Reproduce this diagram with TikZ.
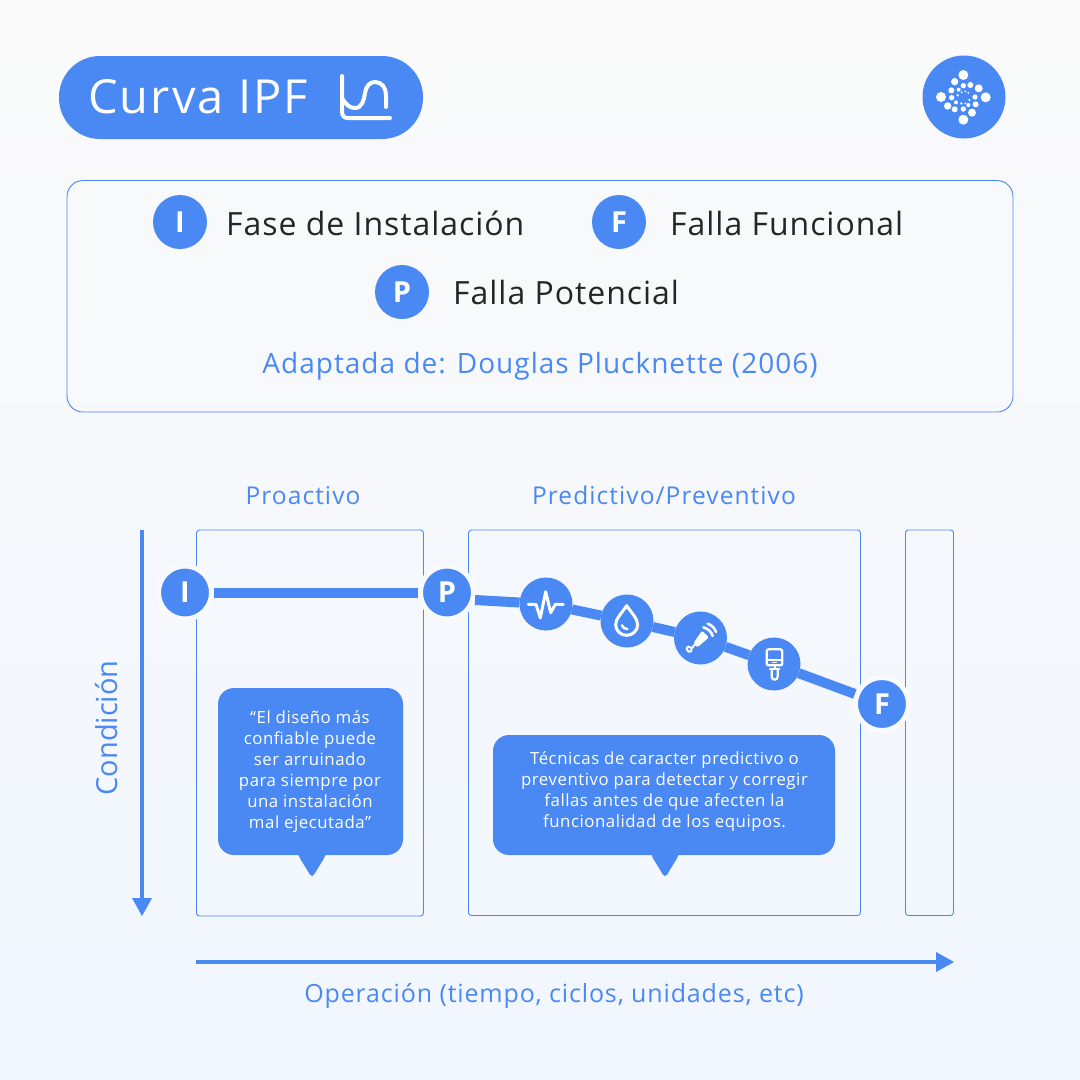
\documentclass[tikz,border=0pt]{standalone}
\usepackage{fontspec}
\setmainfont{Open Sans}
\definecolor{ipfblue}{RGB}{74,137,243}
\definecolor{bgtop}{RGB}{250,250,250}
\definecolor{bgbot}{RGB}{241,246,255}
\definecolor{halo}{RGB}{248,250,254}
\definecolor{ink}{RGB}{38,38,38}
\newcommand{\ipffont}[3]{\fontsize{#1}{#2}\selectfont\addfontfeature{LetterSpace=#3}}
\newcommand{\ipfbold}[2]{\bfseries\fontsize{#1}{#2}\selectfont}
\tikzset{
  badge/.style={circle,fill=ipfblue,text=white,inner sep=0pt,minimum size=54pt,font=\ipfbold{29}{29}},
  marker/.style={circle,fill=ipfblue,draw=halo,line width=5pt,text=white,inner sep=0pt,minimum size=53pt,outer sep=2.5pt,font=\ipfbold{29}{29}},
  tech/.style={circle,fill=ipfblue,inner sep=0pt,minimum size=53pt,outer sep=0pt},
  phase/.style={draw=ipfblue,line width=0.9pt,rounded corners=3pt},
  curve/.style={draw=ipfblue,line width=10pt},
  axis/.style={draw=ipfblue,line width=3.5pt},
  bubble/.style={fill=ipfblue,rounded corners=16pt},
  bubbletext/.style={text=white,align=center,font=\ipffont{16.8}{21}{3.2},inner sep=0pt},
  legend/.style={text=ink,font=\ipffont{32}{32}{3.0},anchor=base west,inner sep=0pt},
  head/.style={text=ipfblue,font=\ipffont{24.5}{24}{4.4},inner sep=0pt},
  icon/.style={draw=white,line width=3pt,line cap=round,line join=round}
}
\begin{document}
\begin{tikzpicture}[x=1pt,y=-1pt]
\useasboundingbox (0,0) rectangle (1080,1080);
\shade[top color=bgtop,bottom color=bgbot] (0,0) rectangle (1080,1080);
% title
\fill[ipfblue,rounded corners=41pt] (59,56) rectangle (423,139);
\node[text=white,font=\ipffont{47}{47}{4.4},anchor=base west,inner sep=0pt] (title) at (88,113) {Curva IPF};
\draw[white,line width=4pt,line cap=round,line join=round] (342,76) -- (342,111) .. controls (342,116) and (344,118) .. (348,118) -- (390,118);
\draw[white,line width=4pt,line cap=round] (342,98) .. controls (346,105) and (350,108) .. (355,108) .. controls (362,108) and (364,100) .. (365,93) .. controls (366,86) and (370,82) .. (375,82) .. controls (382,82) and (386,88) .. (386,95) -- (386,107);
% logo
\fill[ipfblue] (964,97) circle [radius=41.5pt];
\begin{scope}[shift={(910,45)},scale=1/3]
\foreach \x/\y/\r in {160/90/15,134/110/11,160/122/8,181/120/9,206/130/12,124/136/9,146/134/6,93/156/15,125/158/8,195/156/8,227/157/15,113/183/11,134/193/9,138/172/6,160/192/8,186/203/12,160/224/15,197/178/9,175/180/6,178/165/4,154/175/4,166/175/3,143/151/4,155/142/3,166/139/3,175/143/3}
  \fill[white] (\x,\y) circle [radius=\r];
\end{scope}
% legend
\draw[phase,rounded corners=16pt] (67,180.5) rectangle (1013,412);
\node[badge] (li) at (180,222) {I};
\node[legend] (lit) at (226,235) {Fase de Instalación};
\node[badge] (lf) at (619,222) {F};
\node[legend] (lft) at (670,235) {Falla Funcional};
\node[badge] (lp) at (402,292) {P};
\node[legend] (lpt) at (453,304) {Falla Potencial};
\node[text=ipfblue,font=\ipffont{28}{28}{3.6},anchor=base,inner sep=0pt] (src) at (540,373) {Adaptada de: Douglas Plucknette (2006)};
% headers
\node[head,anchor=base] (h1) at (303,504) {Proactivo};
\node[head,anchor=base] (h2) at (664,504) {Predictivo/Preventivo};
% phase boxes
\draw[phase] (196.5,530) rectangle (423.5,916);
\draw[phase] (468.5,530) rectangle (860.5,915.5);
\draw[phase] (905.5,530) rectangle (953.5,915.5);
% axes
\coordinate (vs) at (142,530);
\coordinate (ve) at (142,916);
\coordinate (hs) at (196,962);
\coordinate (he) at (954,962);
\draw[axis] (vs) -- (142,900);
\fill[ipfblue] (ve) -- (132,898) -- (152,898) -- cycle;
\draw[axis] (hs) -- (938,962);
\fill[ipfblue] (he) -- (936,952) -- (936,972) -- cycle;
\node[text=ipfblue,font=\ipffont{29}{29}{0},rotate=90,anchor=base,inner sep=0pt] (cond) at (117,728) {Condición};
\node[text=ipfblue,font=\ipffont{25}{25}{3.4},anchor=base,inner sep=0pt] (oper) at (554,1002) {Operación (tiempo, ciclos, unidades, etc)};
% markers
\node[marker] (I) at (185,592.5) {I};
\node[marker] (P) at (447,592.5) {P};
\node[marker] (F) at (882,704) {F};
\node[tech] (s1) at (546,604) {};
\node[tech] (s2) at (627,621) {};
\node[tech] (s3) at (700.5,638) {};
\node[tech] (s4) at (774,664) {};
\coordinate (pa) at (475,600);
\draw[curve] (I) -- (P);
\draw[curve] (pa) -- (s1);
\draw[curve] (s1) -- (s2);
\draw[curve] (s2) -- (s3);
\draw[curve] (s3) -- (s4);
\draw[curve] (s4) -- (F);
% icons
\begin{scope}[shift={(410,560)},scale=1/3]
\draw[icon] (355,133) -- (378,133) -- (391,174) -- (407,95) -- (422,158) -- (436,133) -- (460,133);
\draw[icon] (650,137) .. controls (635,160) and (617,175) .. (617,194) .. controls (617,212) and (632,226) .. (650,226) .. controls (668,226) and (683,212) .. (683,194) .. controls (683,175) and (665,160) .. (650,137) -- cycle;
\draw[icon,line width=2.5pt] (636,196) .. controls (638,203) and (644,207) .. (652,207);
\end{scope}
\begin{scope}[shift={(660,600)},scale=1/3]
\fill[white,rounded corners=1.5pt] (126,92) -- (147,112) -- (112,142) -- (100,130) -- cycle;
\draw[icon,line width=2pt] (103,135) -- (94,147) .. controls (90,135) and (78,140) .. (80,148) .. controls (82,156) and (90,158) .. (95,153);
\draw[icon,line width=2.6pt] (130,82) .. controls (145,86) and (155,97) .. (158,108);
\draw[icon,line width=2.6pt] (143,71) .. controls (155,75) and (165,85) .. (168,96);
\draw[icon,line width=2.3pt,rounded corners=2pt] (320,148) rectangle (367,196);
\draw[icon,line width=2.2pt] (322,180) -- (365,180);
\fill[white] (336,185) rectangle (352,188);
\draw[icon,line width=2.2pt] (345,196) -- (345,204);
\draw[icon,line width=2.2pt] (330,206) -- (358,206);
\draw[icon,line width=2.2pt] (335,208) -- (335,230) .. controls (335,242) and (353,242) .. (353,230) -- (353,208);
\end{scope}
% bubbles
\coordinate (t1) at (312,878);
\coordinate (t2) at (665,878);
\fill[bubble] (218,688) rectangle (403,855);
\fill[ipfblue,rounded corners=4pt] (298,850) -- (326,850) -- (326,855) -- (t1) -- (298,855) -- cycle;
\fill[bubble] (493,735) rectangle (835,855);
\fill[ipfblue,rounded corners=4pt] (651,850) -- (679,850) -- (679,855) -- (t2) -- (651,855) -- cycle;
\node[bubbletext] (b1) at (310,772) {“El diseño más\\confiable puede\\ser arruinado\\para siempre por\\una instalación\\mal ejecutada”};
\node[bubbletext] (b2) at (664.5,792) {Técnicas de caracter predictivo o\\preventivo para detectar y corregir\\fallas antes de que afecten la\\funcionalidad de los equipos.};
\end{tikzpicture}
\end{document}
